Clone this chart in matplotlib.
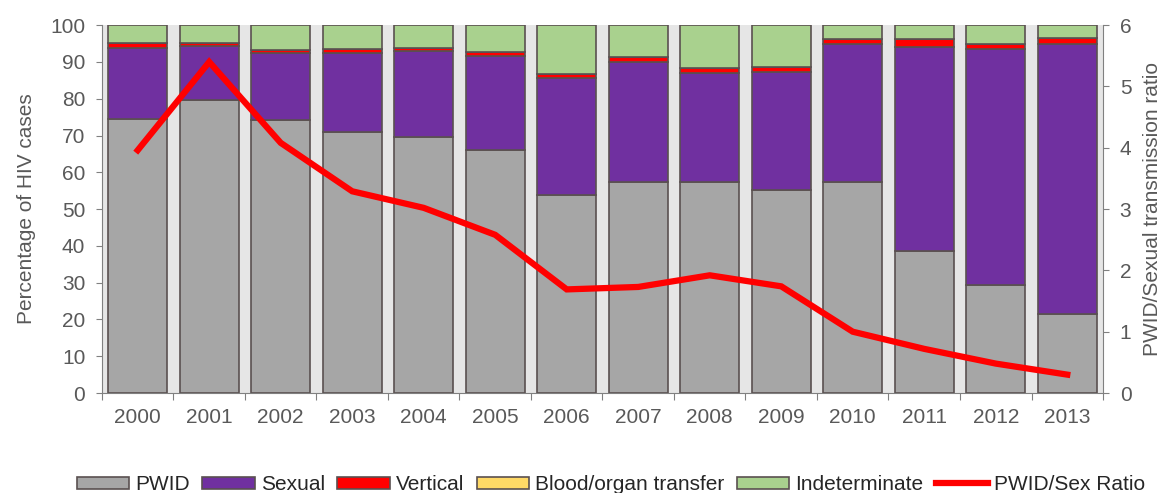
import matplotlib.pyplot as plt
import numpy as np
from matplotlib.patches import Patch
from matplotlib.lines import Line2D

plt.rcParams['font.family'] = ['Liberation Sans', 'DejaVu Sans']

years = ['2000', '2001', '2002', '2003', '2004', '2005', '2006',
         '2007', '2008', '2009', '2010', '2011', '2012', '2013']

# percentages of HIV cases by transmission route
pwid = [74.5, 79.6, 74.2, 70.9, 69.7, 66.0, 53.7, 57.3, 57.3, 55.1, 57.3, 38.7, 29.3, 21.5]
sexual = [19.4, 14.8, 18.3, 21.6, 23.4, 25.7, 31.8, 32.7, 29.8, 32.2, 37.5, 55.4, 64.1, 73.5]
vertical = [1.3, 0.7, 0.8, 0.9, 0.8, 1.1, 1.3, 1.4, 1.3, 1.4, 1.3, 2.1, 1.4, 1.5]
blood = [0, 0, 0, 0, 0, 0, 0, 0, 0, 0, 0, 0, 0, 0]
indeterminate = [4.8, 4.9, 6.7, 6.6, 6.1, 7.2, 13.2, 8.6, 11.6, 11.3, 3.9, 3.8, 5.2, 3.5]

# PWID / sexual transmission ratio (right axis)
ratio = [3.96, 5.40, 4.08, 3.29, 3.02, 2.58, 1.69, 1.73, 1.92, 1.74, 1.00, 0.72, 0.48, 0.30]

series = [('PWID', pwid, '#a6a6a6'),
          ('Sexual', sexual, '#7030a0'),
          ('Vertical', vertical, '#ff0000'),
          ('Blood/organ transfer', blood, '#ffd966'),
          ('Indeterminate', indeterminate, '#a9d18e')]

edge = '#5a5050'
txt = '#595959'

fig = plt.figure(figsize=(11.64, 4.93), dpi=100)
ax = fig.add_axes([0.0876, 0.2028, 0.86, 0.7462])
ax.set_facecolor('#e6e6e6')

x = np.arange(len(years))
bottom = np.zeros(len(years))
for name, vals, color in series:
    vals = np.array(vals, dtype=float)
    ax.bar(x, vals, bottom=bottom, width=0.82, color=color,
           edgecolor=edge, linewidth=1.2, zorder=2)
    bottom += vals

ax.set_xlim(-0.5, len(years) - 0.5)
ax.set_ylim(0, 100)
ax.set_yticks(np.arange(0, 101, 10))
ax.set_xticks(np.arange(-0.5, len(years), 1.0))
ax.set_xticklabels([])
ax.set_xticks(x, minor=True)
ax.set_xticklabels(years, minor=True)
ax.tick_params(axis='x', which='major', length=5, color='#808080')
ax.tick_params(axis='x', which='minor', length=0, labelsize=15, pad=11, labelcolor=txt)
ax.tick_params(axis='y', length=4, color='#808080', labelsize=15, pad=8, labelcolor=txt)
ax.set_ylabel('Percentage of HIV cases', fontsize=15, color=txt, labelpad=10)
for s in ['top', 'right']:
    ax.spines[s].set_visible(False)
for s in ['left', 'bottom']:
    ax.spines[s].set_color('#808080')

ax2 = ax.twinx()
ax2.plot(x, ratio, color='#ff0000', linewidth=4.5, solid_joinstyle='miter', zorder=5)
ax2.set_ylim(0, 6)
ax2.set_yticks(np.arange(0, 7, 1))
ax2.tick_params(axis='y', length=4, color='#808080', labelsize=15, pad=8, labelcolor=txt)
ax2.set_ylabel('PWID/Sexual transmission ratio', fontsize=15, color=txt, labelpad=8)
for s in ['top', 'left', 'bottom']:
    ax2.spines[s].set_visible(False)
ax2.spines['right'].set_color('#808080')

handles = [Patch(facecolor=c, edgecolor=edge, linewidth=1.2, label=n) for n, _, c in series]
handles.append(Line2D([0], [0], color='#ff0000', linewidth=4.5, label='PWID/Sex Ratio'))
leg = fig.legend(handles=handles, loc='lower center', bbox_to_anchor=(0.525, -0.04), ncol=6,
                 frameon=False, fontsize=15, handlelength=2.5, handleheight=0.5,
                 handletextpad=0.3, columnspacing=0.6)
for t in leg.get_texts():
    t.set_color('#262626')

fig.savefig('out.png', dpi=100)
